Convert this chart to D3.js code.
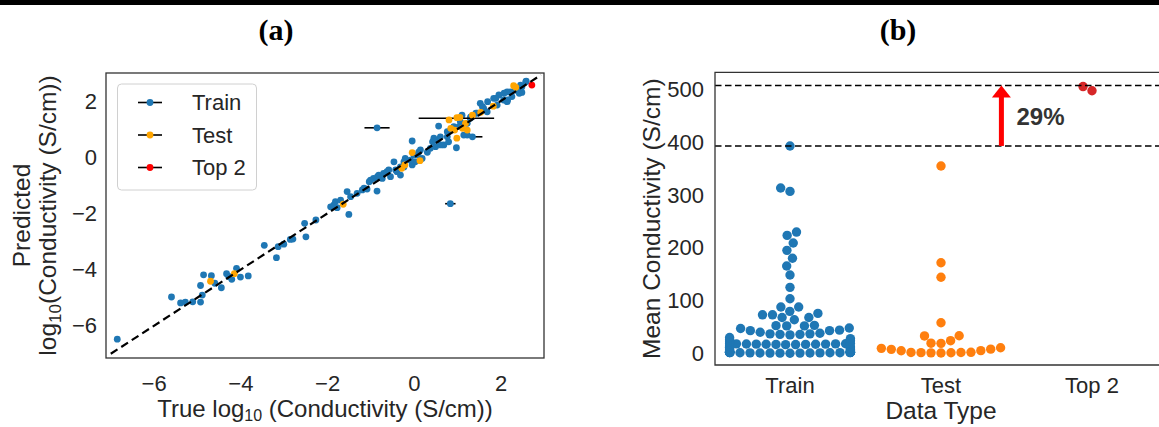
<!DOCTYPE html>
<html>
<head>
<meta charset="utf-8">
<script src="https://cdn.jsdelivr.net/npm/d3@7"></script>
<style>
  body { margin: 0; background: #fff; }
  svg { display: block; font-family: "Liberation Sans", Arial, sans-serif; }
</style>
</head>
<body>
<svg id="fig" width="1159" height="427"></svg>
<script>
// ---------- panel (a): parity plot, log10 conductivity ----------
const trainTrue = [-6.85,-5.60,-5.39,-5.28,-5.11,-4.93,-4.89,-4.93,-4.86,-4.68,-4.60,-4.45,-4.33,-4.28,-4.21,-4.10,-4.01,-3.83,
  -3.46,-3.18,-3.14,-3.01,-2.86,-2.80,-2.53,-2.50,-2.27,-1.93,-1.86,-1.82,-1.70,-1.78,-1.55,-1.51,-1.47,-1.32,-1.20,-1.09,
  -1.04,-0.86,-0.94,-0.82,-0.71,-0.55,-0.47,-0.40,-0.32,-0.21,-0.05,-0.05,0.02,0.10,0.18,0.30,0.37,0.49,0.53,0.60,0.68,0.79,
  0.97,0.56,0.83,-0.86,1.22,1.29,1.52,1.60,1.68,1.83,1.95,2.06,2.14,2.25,2.37,2.48,2.58,2.48,2.14,1.91,1.45,1.06,0.91,0.76,
  0.45,1.34,1.10,1.14,0.14,-0.01,-0.24,-0.63,-0.74,-1.01,
  -1.16,-0.85,-0.59,-0.43,-0.32,-0.24,-0.09,0.07,0.42,0.61,0.76,0.84,1.03,1.22,1.30,1.42,1.57,1.69,1.88,2.07,2.22,2.34,2.42,
  2.45,2.57,2.15];
const trainPred = [-6.48,-4.98,-5.19,-5.16,-5.15,-5.16,-4.91,-4.57,-4.19,-4.22,-4.49,-4.65,-4.15,-4.25,-4.35,-3.96,-4.27,-4.23,
  -3.14,-3.58,-3.19,-3.10,-2.93,-2.92,-2.36,-2.84,-2.24,-1.77,-1.71,-1.59,-1.53,-1.80,-1.23,-2.04,-1.41,-1.29,-1.17,-1.14,
  -0.88,-1.21,-0.76,-0.64,-0.58,-0.70,-0.17,-0.52,-0.35,-0.05,0.57,-0.28,-0.17,0.17,-0.05,0.17,0.31,0.37,0.60,0.72,0.43,0.54,
  0.33,1.10,-1.66,1.04,0.78,1.38,1.91,1.73,1.61,2.09,2.21,2.03,2.32,2.15,2.38,2.50,2.70,2.30,1.97,1.85,1.56,1.26,1.08,0.90,
  0.67,0.72,1.49,0.78,0.25,0.07,-0.17,-0.52,-0.76,-0.82,
  -1.11,-0.70,-0.46,-0.46,-0.64,-0.35,-0.11,0.07,0.54,0.43,0.72,0.96,1.08,1.20,1.43,1.56,1.79,1.97,2.09,2.27,2.32,2.38,2.27,
  2.56,2.68,2.03];
const testTrue = [-4.70,-4.15,-1.64,-0.29,-0.22,-0.05,0.13,0.80,0.98,1.05,0.84,0.93,1.11,1.18,0.98,1.34,1.53,1.82,2.29,2.34,1.22];
const testPred = [-4.42,-4.15,-1.68,-0.40,-0.28,0.16,-0.13,1.32,1.40,1.41,1.02,0.96,1.02,1.20,0.67,1.49,1.59,1.81,2.54,2.48,0.96];
const top2True = [2.71];
const top2Pred = [2.56];

// horizontal error bars that are visible (centre x, centre y, half width), by series
const trainErrX = [-0.86, 0.83, 1.34];
const trainErrY = [1.04, -1.66, 0.72];
const trainErrHalf = [0.29, 0.12, 0.23];
const testErrX = [0.97];
const testErrY = [1.38];
const testErrHalf = [0.87];

const diagRange = [-7.0, 2.92];
const xTicksA = [-6, -4, -2, 0, 2];
const yTicksA = [-6, -4, -2, 0, 2];
const legendLabels = ["Train", "Test", "Top 2"];

// ---------- panel (b): swarm of mean conductivity (S/cm) ----------
const categories = ["Train", "Test", "Top 2"];
const trainCond = [0.4,0.6,0.8,1.0,1.1,1.2,1.3,1.5,1.6,1.8,2.0,2.1,2.3,2.5,2.6,2.8,3.0,0.5,0.7,0.9,1.4,1.7,1.9,2.2,2.4,2.7,2.9,0.3,3.2,3.4,
  5.5,6.5,7.5,8.8,10.2,11.5,12.6,13.8,
  16.5,16.7,16.9,17.0,17.2,17.3,17.5,17.6,17.8,17.9,18.0,18.2,18.4,18.5,
  22,24,26,28,30,
  35,36,36,37,37,38,40,43,43,44,47,48,
  52,52.5,53,52,
  63.6,68,68,73,73,75.7,79.5,87.7,87.7,103.4,125,148.3,165.3,180,195,209,223.3,229.6,306.6,313,392.6];
const testCond = [0.8,1.0,1.2,1.4,1.6,1.8,2.0,5,5.2,7.6,8,9.5,10.6,19,19.3,24,33,33.3,58,144,171.6,354.7];
const top2Cond = [497, 505];
const refLines = [392.6, 507];   // best train value and best predicted value
const gainLabel = "29%";
const yTicksB = [0, 100, 200, 300, 400, 500];

const svg = d3.select("#fig");
const ink = "#262626";

// top rule and panel letters
svg.append("rect").attr("x", 0).attr("y", 0).attr("width", 1159).attr("height", 5).attr("fill", "#000");
[["(a)", 276], ["(b)", 898]].forEach(([t, x]) => {
  svg.append("text").attr("x", x).attr("y", 40).attr("text-anchor", "middle")
    .attr("font-family", "'Liberation Serif', 'Times New Roman', serif")
    .attr("font-weight", "bold").attr("font-size", 30).attr("fill", "#000").text(t);
});

// ===== panel (a) =====
const xA = d3.scaleLinear().domain([-7.11, 2.99]).range([106, 544]);
const yA = d3.scaleLinear().domain([-7.15, 2.99]).range([358, 73]);
const gA = svg.append("g");

function errBars(xs, ys, hs) {
  gA.append("g").selectAll("line").data(xs).join("line")
    .attr("x1", (d, i) => xA(d - hs[i])).attr("x2", (d, i) => xA(d + hs[i]))
    .attr("y1", (d, i) => yA(ys[i])).attr("y2", (d, i) => yA(ys[i]))
    .attr("stroke", "#000").attr("stroke-width", 1.6);
}
function dots(xs, ys, color) {
  gA.append("g").selectAll("circle").data(xs).join("circle")
    .attr("cx", d => xA(d)).attr("cy", (d, i) => yA(ys[i]))
    .attr("r", 3.4).attr("fill", color);
}
errBars(trainErrX, trainErrY, trainErrHalf);
dots(trainTrue, trainPred, "#1f77b4");
errBars(testErrX, testErrY, testErrHalf);
dots(testTrue, testPred, "orange");
dots(top2True, top2Pred, "red");

gA.append("line")
  .attr("x1", xA(diagRange[0])).attr("y1", yA(diagRange[0]))
  .attr("x2", xA(diagRange[1])).attr("y2", yA(diagRange[1]))
  .attr("stroke", "#000").attr("stroke-width", 2.2).attr("stroke-dasharray", "8,4.5");

gA.append("rect").attr("x", 106).attr("y", 73).attr("width", 438).attr("height", 285)
  .attr("fill", "none").attr("stroke", "#333").attr("stroke-width", 1.3);

gA.append("g").selectAll("text").data(xTicksA).join("text")
  .attr("x", d => xA(d)).attr("y", 391).attr("text-anchor", "middle")
  .attr("font-size", 22).attr("fill", ink).text(d3.format("d"));
gA.append("g").selectAll("text").data(yTicksA).join("text")
  .attr("x", 97).attr("y", d => yA(d)).attr("dy", "0.35em").attr("text-anchor", "end")
  .attr("font-size", 22).attr("fill", ink).text(d3.format("d"));

const xlab = gA.append("text").attr("x", 325).attr("y", 417).attr("text-anchor", "middle")
  .attr("font-size", 24).attr("fill", ink);
xlab.append("tspan").text("True log");
xlab.append("tspan").attr("font-size", 16).attr("dy", 4).text("10");
xlab.append("tspan").attr("dy", -4).text(" (Conductivity (S/cm))");

const ylab = gA.append("g").attr("transform", "translate(0,215.5) rotate(-90)");
ylab.append("text").attr("x", 0).attr("y", 30).attr("text-anchor", "middle")
  .attr("font-size", 24.5).attr("fill", ink).text("Predicted");
const yl2 = ylab.append("text").attr("x", 0).attr("y", 56).attr("text-anchor", "middle")
  .attr("font-size", 24.5).attr("fill", ink);
yl2.append("tspan").text("log");
yl2.append("tspan").attr("font-size", 17).attr("dy", 5).text("10");
yl2.append("tspan").attr("dy", -5).text("(Conductivity (S/cm))");

// legend
const leg = gA.append("g");
leg.append("rect").attr("x", 117.5).attr("y", 84).attr("width", 139).attr("height", 106).attr("rx", 4)
  .attr("fill", "#fff").attr("fill-opacity", 0.85).attr("stroke", "#d0d0d0").attr("stroke-width", 1);
const legColors = ["#1f77b4", "orange", "red"];
legendLabels.forEach((lab, i) => {
  const cy = 102.5 + i * 32.5;
  leg.append("line").attr("x1", 138).attr("x2", 162).attr("y1", cy).attr("y2", cy)
    .attr("stroke", "#000").attr("stroke-width", 1.6);
  leg.append("circle").attr("cx", 150).attr("cy", cy).attr("r", 3.4).attr("fill", legColors[i]);
  leg.append("text").attr("x", 192).attr("y", cy).attr("dy", "0.36em")
    .attr("font-size", 22).attr("fill", ink).text(lab);
});

// ===== panel (b) =====
const xB = d3.scaleLinear().domain([-0.5, 2.5]).range([714.5, 1167.5]);
const yB = d3.scaleLinear().domain([-22, 532]).range([365, 72.3]);
const gB = svg.append("g");

// seaborn-like beeswarm in pixel space
function swarm(values, cat, r, width) {
  const cx = xB(cat), halfW = (xB(cat + width / 2) - xB(cat - width / 2)) / 2;
  const pts = values.map(v => ({ v, x: cx, y: yB(v) })).sort((a, b) => a.v - b.v);
  const placed = [];
  pts.forEach((p, i) => {
    if (i === 0) { placed.push(p); return; }
    const nb = [];
    for (let j = placed.length - 1; j >= 0; j--) {
      if (Math.abs(p.y - placed[j].y) < 2 * r) nb.push(placed[j]); else break;
    }
    nb.reverse();
    const cands = [cx];
    let leftFirst = true;
    nb.forEach(q => {
      const dy = p.y - q.y;
      const dx = Math.sqrt(Math.max(4 * r * r - dy * dy, 0)) * 1.05;
      if (leftFirst) cands.push(q.x - dx, q.x + dx); else cands.push(q.x + dx, q.x - dx);
      leftFirst = !leftFirst;
    });
    const order = cands.map((c, k) => [Math.abs(c - cx), k, c]).sort((a, b) => a[0] - b[0] || a[1] - b[1]);
    for (const [, , c] of order) {
      if (nb.every(q => (c - q.x) ** 2 + (p.y - q.y) ** 2 >= 4 * r * r - 1e-6)) { p.x = c; break; }
    }
    placed.push(p);
  });
  placed.forEach(p => { p.x = Math.max(cx - halfW, Math.min(cx + halfW, p.x)); });
  return placed;
}

const swarmColors = ["#1f77b4", "#ff7f0e", "#d62728"];
[trainCond, testCond, top2Cond].forEach((vals, k) => {
  gB.append("g").selectAll("circle").data(swarm(vals, k, 4.76, 0.8)).join("circle")
    .attr("cx", d => d.x).attr("cy", d => d.y).attr("r", 4.7).attr("fill", swarmColors[k]);
});

gB.append("g").selectAll("line").data(refLines).join("line")
  .attr("x1", 715).attr("x2", 1167.5).attr("y1", d => yB(d)).attr("y2", d => yB(d))
  .attr("stroke", "#000").attr("stroke-width", 1.6).attr("stroke-dasharray", "6.5,3.5");

// arrow from best train to best predicted
const ax = xB(1.4);
const tipY = yB(refLines[1]), baseY = yB(refLines[0]);
gB.append("rect").attr("x", ax - 2.5).attr("y", tipY + 11).attr("width", 5).attr("height", baseY - tipY - 11)
  .attr("fill", "red");
gB.append("path").attr("d", `M${ax},${tipY} L${ax - 9.5},${tipY + 12} L${ax + 9.5},${tipY + 12} Z`).attr("fill", "red");
gB.append("text").attr("x", xB(1.5)).attr("y", yB(432)).attr("font-size", 24).attr("font-weight", "bold")
  .attr("fill", "#333").text(gainLabel);

gB.append("path").attr("d", "M1167.5,72.3 H715 V365 H1167.5")
  .attr("fill", "none").attr("stroke", "#333").attr("stroke-width", 1.3);

gB.append("g").selectAll("text").data(yTicksB).join("text")
  .attr("x", 704).attr("y", d => yB(d)).attr("dy", "0.35em").attr("text-anchor", "end")
  .attr("font-size", 22).attr("fill", ink).text(d => d);
gB.append("g").selectAll("text").data(categories).join("text")
  .attr("x", (d, i) => xB(i)).attr("y", 393).attr("text-anchor", "middle")
  .attr("font-size", 22).attr("fill", ink).text(d => d);
gB.append("text").attr("x", 941).attr("y", 419).attr("text-anchor", "middle")
  .attr("font-size", 24.5).attr("fill", ink).text("Data Type");
gB.append("text").attr("transform", "translate(660,218.7) rotate(-90)").attr("text-anchor", "middle")
  .attr("font-size", 24.5).attr("fill", ink).text("Mean Conductivity (S/cm)");
</script>
</body>
</html>
